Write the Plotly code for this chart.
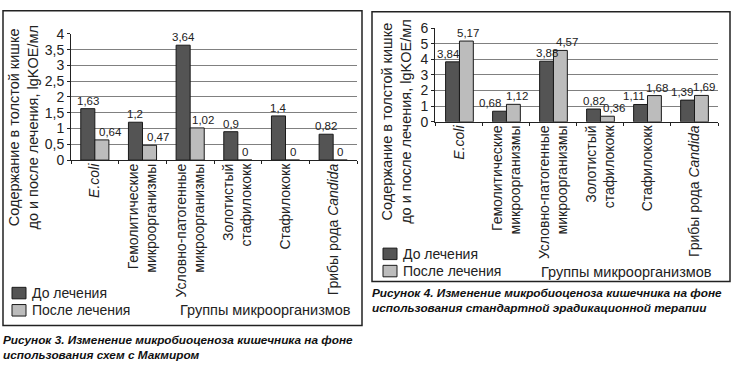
import plotly.graph_objects as go

W, H = 734, 369

categories = ["E.coli", "Гемолитические микроорганизмы", "Условно-патогенные микроорганизмы",
              "Золотистый стафилококк", "Стафилококк", "Грибы рода Candida"]
tick_labels = ["<i>E.coli</i>", "Гемолитические<br>микроорганизмы", "Условно-патогенные<br>микроорганизмы",
               "Золотистый<br>стафилококк", "Стафилококк", "Грибы рода <i>Candida</i>"]
series_names = ["До лечения", "После лечения"]

fig3_before = [1.63, 1.2, 3.64, 0.9, 1.4, 0.82]
fig3_after = [0.64, 0.47, 1.02, 0, 0, 0]
fig4_before = [3.84, 0.68, 3.88, 0.82, 1.11, 1.39]
fig4_after = [5.17, 1.12, 4.57, 0.36, 1.68, 1.69]

fig3_yticks = [0, 0.5, 1, 1.5, 2, 2.5, 3, 3.5, 4]
fig3_yticktext = ["0", "0,5", "1", "1,5", "2", "2,5", "3", "3,5", "4"]
fig4_yticks = [0, 1, 2, 3, 4, 5, 6]
fig4_yticktext = ["0", "1", "2", "3", "4", "5", "6"]

y_title = "Содержание в толстой кишке<br>до и после лечения, lgKOE/мл"
x_title = "Группы микроорганизмов"
caption3 = "Рисунок 3. Изменение микробиоценоза кишечника на фоне<br>использования схем с Макмиром"
caption4 = "Рисунок 4. Изменение микробиоценоза кишечника на фоне<br>использования стандартной эрадикационной терапии"

# style: manual nudges (px) of value labels, as in the original
fig3_label_nudge = ([0, 0, 0, 0, 0, 0], [9, 8, 6, 0, 0, 0])
fig4_label_nudge = ([-4, -10, 0, 0, -7, -6], [2, 4, 7, 7, 3, 3])

colors = ["#545454", "#bcbcbc"]
FONT = "Liberation Sans, Arial, sans-serif"
TXT = "#222"
BARGAP = 0.41

# panel geometry (px)
P3 = dict(x0=71, x1=357, y0=159, y1=27)
P4 = dict(x0=435, x1=718, y0=119, y1=21)


def fmt(v):
    return f"{v:g}".replace(".", ",")


def px(x):
    return x / W


def py(y):
    return 1 - y / H


fig = go.Figure()
panels = [("x", "y", P3, fig3_before, fig3_after, fig3_label_nudge),
          ("x2", "y2", P4, fig4_before, fig4_after, fig4_label_nudge)]
for xa, ya, geo, before, after, nudges in panels:
    cat_w = (geo["x1"] - geo["x0"]) / len(categories)
    half = cat_w * (1 - BARGAP) / 4
    for k, (vals, name, col) in enumerate([(before, series_names[0], colors[0]),
                                           (after, series_names[1], colors[1])]):
        fig.add_trace(go.Bar(x=categories, y=vals, name=name, showlegend=False,
                             marker=dict(color=col, line=dict(color="#1a1a1a", width=1)),
                             xaxis=xa, yaxis=ya))
        sign = -1 if k == 0 else 1
        for c, v, n in zip(categories, vals, nudges[k]):
            fig.add_annotation(x=c, y=v, xref=xa, yref=ya, text=fmt(v), showarrow=False,
                               xanchor="center", yanchor="bottom", xshift=sign * half + n, yshift=0,
                               font=dict(size=11.5, color=TXT, family=FONT))

xcommon = dict(type="category", tickmode="array", tickvals=categories, ticktext=tick_labels, tickangle=-90,
               showline=True, linecolor="#222", linewidth=1, ticks="outside", tickson="boundaries", ticklen=3,
               tickcolor="#222", showgrid=False, ticklabelstandoff=-3,
               tickfont=dict(size=14, color=TXT, family=FONT))
ycommon = dict(showline=True, linecolor="#222", linewidth=1, ticks="outside", ticklen=3, tickcolor="#222",
               showgrid=True, gridcolor="#808080", gridwidth=1, zeroline=False,
               tickfont=dict(size=14, color=TXT, family=FONT))

fig.update_layout(
    width=W, height=H, margin=dict(l=0, r=0, t=0, b=0),
    paper_bgcolor="white", plot_bgcolor="white",
    font=dict(family=FONT, size=14, color=TXT),
    barmode="group", bargap=BARGAP, bargroupgap=0,
    xaxis=dict(domain=[px(P3["x0"]), px(P3["x1"])], anchor="y", **xcommon),
    yaxis=dict(domain=[py(P3["y0"]), py(P3["y1"])], anchor="x", range=[0, 4], tickvals=fig3_yticks,
               ticktext=fig3_yticktext, **ycommon),
    xaxis2=dict(domain=[px(P4["x0"]), px(P4["x1"])], anchor="y2", **xcommon),
    yaxis2=dict(domain=[py(P4["y0"]), py(P4["y1"])], anchor="x2", range=[0, 6], tickvals=fig4_yticks,
                ticktext=fig4_yticktext, **ycommon),
    showlegend=False,
)

# panel frames
fig.add_shape(type="rect", xref="paper", yref="paper", x0=px(3), x1=px(362), y0=py(332), y1=py(3),
              line=dict(color="#222", width=1.5), layer="below")
fig.add_shape(type="rect", xref="paper", yref="paper", x0=px(372), x1=px(730), y0=py(286), y1=py(4),
              line=dict(color="#222", width=1.5), layer="below")

# legends (one per panel)
for lx, ly in [(12, 298), (383, 257)]:
    for i, (name, col) in enumerate(zip(series_names, colors)):
        cy = ly + i * 18
        fig.add_shape(type="rect", xref="paper", yref="paper", x0=px(lx), x1=px(lx + 14),
                      y0=py(cy + 6), y1=py(cy - 6), fillcolor=col, line=dict(color="#1a1a1a", width=1))
        fig.add_annotation(text=name, xref="paper", yref="paper", x=px(lx + 18), y=py(cy), xanchor="left",
                           yanchor="middle", showarrow=False, font=dict(size=14, color=TXT))

ann = [
    dict(text=y_title, x=px(24), y=py(125), textangle=-90),
    dict(text=y_title, x=px(397), y=py(119), textangle=-90),
    dict(text=x_title, x=px(265), y=py(316)),
    dict(text=x_title, x=px(626), y=py(276)),
]
for a in ann:
    fig.add_annotation(xref="paper", yref="paper", showarrow=False, xanchor="center", yanchor="middle",
                       font=dict(size=14.5, color=TXT), **a)

cap_font = dict(size=11.8, color="#111", weight="bold", style="italic", family=FONT)
fig.add_annotation(text=caption3, xref="paper", yref="paper", x=px(1), y=py(338), xanchor="left", yanchor="top",
                   align="left", showarrow=False, font=cap_font)
fig.add_annotation(text=caption4, xref="paper", yref="paper", x=px(370), y=py(289), xanchor="left", yanchor="top",
                   align="left", showarrow=False, font=cap_font)

fig.write_html("out.html", config={"displayModeBar": False},
               post_script="document.body.style.margin='0px';")
